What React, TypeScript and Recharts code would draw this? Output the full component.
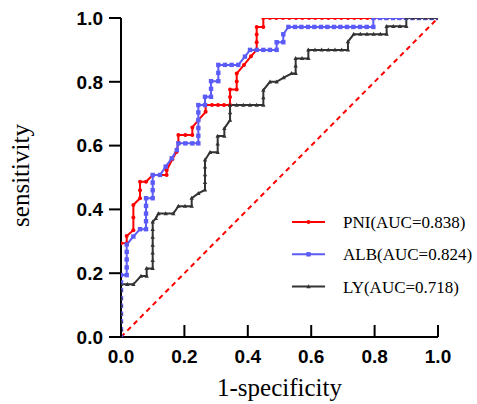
import React from 'react';
import { LineChart, Line, XAxis, YAxis, Legend, Label } from 'recharts';

const axisTicks = [0, 0.2, 0.4, 0.6, 0.8, 1.0];
const seriesNames = ['PNI(AUC=0.838)', 'ALB(AUC=0.824)', 'LY(AUC=0.718)'];
const seriesColors = ['#FF0000', '#5B5BF7', '#333333'];

const diagonalPoints: [number, number][] = [[0, 0], [1, 1]];

const pniPoints: [number, number][] = [
  [0, 0], [0, 0.147], [0, 0.294], [0.018, 0.294], [0.018, 0.317], [0.039, 0.335],
  [0.039, 0.375], [0.039, 0.414], [0.06, 0.435], [0.06, 0.46], [0.06, 0.487],
  [0.079, 0.487], [0.1, 0.508], [0.122, 0.508], [0.144, 0.508], [0.144, 0.523],
  [0.162, 0.557], [0.175, 0.58], [0.181, 0.61], [0.181, 0.633], [0.203, 0.633],
  [0.225, 0.633], [0.225, 0.657], [0.244, 0.68], [0.267, 0.706], [0.267, 0.727],
  [0.287, 0.727], [0.306, 0.727], [0.325, 0.727], [0.344, 0.727], [0.344, 0.752],
  [0.344, 0.776], [0.365, 0.776], [0.365, 0.801], [0.365, 0.826], [0.388, 0.853],
  [0.41, 0.88], [0.428, 0.9], [0.428, 0.924], [0.428, 0.948], [0.428, 0.972],
  [0.449, 0.972], [0.449, 1], [0.47, 1], [0.49, 1], [0.511, 1], [0.531, 1],
  [0.552, 1], [0.572, 1], [0.593, 1], [0.613, 1], [0.634, 1], [0.654, 1],
  [0.675, 1], [0.695, 1], [0.716, 1], [0.736, 1], [0.757, 1], [0.777, 1],
  [0.798, 1], [0.818, 1], [0.839, 1], [0.859, 1], [0.88, 1], [0.9, 1],
  [0.921, 1], [0.941, 1], [0.962, 1], [0.982, 1], [1, 1],
];

const albPoints: [number, number][] = [
  [0, 0], [0, 0.024], [0, 0.049], [0, 0.073], [0, 0.098], [0, 0.122], [0, 0.147],
  [0, 0.171], [0, 0.194], [0.018, 0.194], [0.018, 0.218], [0.018, 0.243],
  [0.018, 0.267], [0.018, 0.29], [0.039, 0.315], [0.06, 0.338], [0.079, 0.338],
  [0.079, 0.363], [0.079, 0.387], [0.079, 0.411], [0.079, 0.435], [0.1, 0.435],
  [0.1, 0.46], [0.1, 0.484], [0.1, 0.508], [0.123, 0.508], [0.141, 0.534],
  [0.16, 0.56], [0.176, 0.586], [0.181, 0.607], [0.203, 0.607], [0.225, 0.607],
  [0.244, 0.607], [0.244, 0.631], [0.244, 0.655], [0.244, 0.68], [0.244, 0.704],
  [0.244, 0.727], [0.265, 0.727], [0.265, 0.753], [0.284, 0.753], [0.284, 0.778],
  [0.284, 0.802], [0.307, 0.802], [0.307, 0.828], [0.307, 0.853], [0.328, 0.853],
  [0.349, 0.853], [0.37, 0.853], [0.391, 0.879], [0.407, 0.9], [0.428, 0.9],
  [0.449, 0.9], [0.47, 0.9], [0.491, 0.9], [0.491, 0.924], [0.512, 0.924],
  [0.512, 0.949], [0.528, 0.972], [0.549, 0.972], [0.569, 0.972], [0.59, 0.972],
  [0.61, 0.972], [0.631, 0.972], [0.651, 0.972], [0.672, 0.972], [0.692, 0.972],
  [0.713, 0.972], [0.733, 0.972], [0.754, 0.972], [0.775, 0.972], [0.796, 0.972],
  [0.796, 1], [0.817, 1], [0.837, 1], [0.858, 1], [0.878, 1], [0.899, 1],
  [0.919, 1], [0.94, 1], [0.96, 1], [0.98, 1], [1, 1],
];

const lyPoints: [number, number][] = [
  [0, 0], [0, 0.024], [0, 0.049], [0, 0.073], [0, 0.098], [0, 0.122], [0, 0.147],
  [0, 0.165], [0.02, 0.165], [0.039, 0.165], [0.063, 0.191], [0.081, 0.191],
  [0.081, 0.215], [0.1, 0.215], [0.1, 0.24], [0.1, 0.264], [0.1, 0.288],
  [0.1, 0.313], [0.1, 0.337], [0.1, 0.361], [0.11, 0.372], [0.118, 0.387],
  [0.141, 0.387], [0.165, 0.387], [0.181, 0.41], [0.202, 0.41], [0.223, 0.41],
  [0.223, 0.435], [0.244, 0.45], [0.265, 0.461], [0.265, 0.485], [0.265, 0.509],
  [0.265, 0.533], [0.265, 0.555], [0.281, 0.579], [0.305, 0.579], [0.305, 0.605],
  [0.305, 0.63], [0.326, 0.63], [0.326, 0.654], [0.344, 0.68], [0.344, 0.703],
  [0.344, 0.727], [0.365, 0.727], [0.386, 0.727], [0.407, 0.727], [0.428, 0.727],
  [0.449, 0.727], [0.449, 0.75], [0.449, 0.774], [0.47, 0.8], [0.491, 0.8],
  [0.513, 0.813], [0.538, 0.826], [0.551, 0.826], [0.551, 0.85], [0.551, 0.873],
  [0.571, 0.873], [0.591, 0.873], [0.591, 0.9], [0.612, 0.9], [0.633, 0.9],
  [0.654, 0.9], [0.675, 0.9], [0.696, 0.9], [0.716, 0.9], [0.716, 0.926],
  [0.734, 0.949], [0.755, 0.949], [0.776, 0.949], [0.797, 0.949], [0.818, 0.949],
  [0.838, 0.949], [0.838, 0.974], [0.859, 0.974], [0.88, 0.974], [0.9, 0.974],
  [0.9, 1], [0.92, 1], [0.94, 1], [0.96, 1], [0.98, 1], [1, 1],
];

const toRows = (pts: [number, number][]) => pts.map(([x, y]) => ({ x, y }));

const SANS = 'Liberation Sans, Arial, sans-serif';
const SERIF = 'Liberation Serif, Times New Roman, serif';

const RedDot = (props: any) => {
  const { cx, cy, index } = props;
  if (cx == null || cy == null) return <g key={`r${index}`} />;
  return <circle key={`r${index}`} cx={cx} cy={cy} r={2} fill={seriesColors[0]} />;
};
const BlueDot = (props: any) => {
  const { cx, cy, index } = props;
  if (cx == null || cy == null) return <g key={`b${index}`} />;
  return <rect key={`b${index}`} x={cx - 2.2} y={cy - 2.2} width={4.4} height={4.4} fill={seriesColors[1]} />;
};
const BlackDot = (props: any) => {
  const { cx, cy, index } = props;
  if (cx == null || cy == null) return <g key={`k${index}`} />;
  return (
    <path key={`k${index}`} d={`M${cx},${cy - 2.4} L${cx + 2.2},${cy + 1.6} L${cx - 2.2},${cy + 1.6} Z`} fill={seriesColors[2]} />
  );
};

const XTick = (props: any) => {
  const { x, y, payload } = props;
  return (
    <g>
      <line x1={x} y1={y} x2={x} y2={y - 12} stroke="#000" strokeWidth={2} />
      <text x={x} y={y + 26} textAnchor="middle" style={{ fontFamily: SANS, fontWeight: 700, fontSize: 19 }} fill="#000">
        {Number(payload.value).toFixed(1)}
      </text>
    </g>
  );
};

const YTitle = (props: any) => {
  const vb = props.viewBox || { x: 0, y: 18, width: 121, height: 319 };
  const cx = vb.x + 29;
  const cy = vb.y + vb.height / 2 - 2;
  return (
    <text x={cx} y={cy} transform={`rotate(-90, ${cx}, ${cy})`} textAnchor="middle" style={{ fontFamily: SERIF, fontSize: 25 }} fill="#000">
      sensitivity
    </text>
  );
};

const XTitle = (props: any) => {
  const vb = props.viewBox || { x: 121, y: 337, width: 317, height: 67 };
  return (
    <text x={vb.x + vb.width / 2} y={vb.y + 59} textAnchor="middle" style={{ fontFamily: SERIF, fontSize: 25 }} fill="#000">
      1-specificity
    </text>
  );
};

const LegendContent = () => {
  const markers = [
    (x: number, y: number) => <circle cx={x} cy={y} r={2} fill={seriesColors[0]} />,
    (x: number, y: number) => <rect x={x - 2.2} y={y - 2.2} width={4.4} height={4.4} fill={seriesColors[1]} />,
    (x: number, y: number) => <path d={`M${x},${y - 2.4} L${x + 2.2},${y + 1.6} L${x - 2.2},${y + 1.6} Z`} fill={seriesColors[2]} />,
  ];
  return (
    <svg width={189} height={100} style={{ display: 'block' }}>
      {seriesNames.map((name, i) => {
        const y = 16 + i * 32.3;
        return (
          <g key={name}>
            <line x1={4} y1={y} x2={37} y2={y} stroke={seriesColors[i]} strokeWidth={2} />
            {markers[i](20.5, y)}
            <text x={55} y={y + 6} style={{ fontFamily: SERIF, fontSize: 17 }} fill="#000">
              {name}
            </text>
          </g>
        );
      })}
    </svg>
  );
};

export default function App() {
  return (
    <div style={{ position: 'absolute', left: 0, top: 0, width: 477, height: 404, background: '#fff' }}>
      <LineChart width={477} height={404} margin={{ top: 18, right: 39, bottom: 0, left: 0 }}>
        <XAxis
          type="number"
          dataKey="x"
          domain={[0, 1]}
          ticks={axisTicks}
          allowDataOverflow
          height={67}
          tickLine={false}
          tickSize={0}
          tickMargin={0}
          tick={<XTick />}
          axisLine={{ stroke: '#000', strokeWidth: 2 }}
        >
          <Label content={<XTitle />} />
        </XAxis>
        <YAxis
          type="number"
          dataKey="y"
          domain={[0, 1]}
          ticks={axisTicks}
          allowDataOverflow
          width={121}
          tickSize={12}
          tickMargin={6}
          tickFormatter={(v: number) => v.toFixed(1)}
          tick={{ fontFamily: SANS, fontWeight: 700, fontSize: 19, fill: '#000' }}
          tickLine={{ stroke: '#000', strokeWidth: 2 }}
          axisLine={{ stroke: '#000', strokeWidth: 2 }}
        >
          <Label content={<YTitle />} />
        </YAxis>
        <Legend
          layout="vertical"
          align="center"
          verticalAlign="middle"
          content={<LegendContent />}
          wrapperStyle={{ position: 'absolute', left: 288, top: 206, width: 189, height: 100 }}
        />
        <Line
          data={toRows(diagonalPoints)}
          dataKey="y"
          type="linear"
          stroke="#FF0000"
          strokeWidth={2}
          strokeDasharray="5 4"
          dot={false}
          activeDot={false}
          legendType="none"
          isAnimationActive={false}
        />
        <Line
          data={toRows(pniPoints)}
          dataKey="y"
          name={seriesNames[0]}
          type="linear"
          stroke={seriesColors[0]}
          strokeWidth={2}
          dot={<RedDot />}
          activeDot={false}
          isAnimationActive={false}
        />
        <Line
          data={toRows(albPoints)}
          dataKey="y"
          name={seriesNames[1]}
          type="linear"
          stroke={seriesColors[1]}
          strokeWidth={2}
          dot={<BlueDot />}
          activeDot={false}
          isAnimationActive={false}
        />
        <Line
          data={toRows(lyPoints)}
          dataKey="y"
          name={seriesNames[2]}
          type="linear"
          stroke={seriesColors[2]}
          strokeWidth={2}
          dot={<BlackDot />}
          activeDot={false}
          isAnimationActive={false}
        />
      </LineChart>
    </div>
  );
}
